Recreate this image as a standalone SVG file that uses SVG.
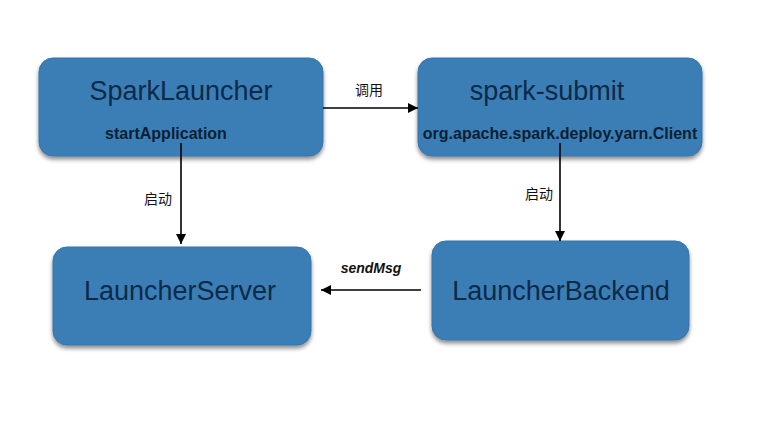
<svg xmlns="http://www.w3.org/2000/svg" width="778" height="448" viewBox="0 0 778 448">
<defs>
<filter id="sh" x="-10%" y="-10%" width="120%" height="130%">
<feGaussianBlur in="SourceAlpha" stdDeviation="2"/>
<feOffset dx="0" dy="3" result="b"/>
<feComponentTransfer><feFuncA type="linear" slope="0.45"/></feComponentTransfer>
<feMerge><feMergeNode/><feMergeNode in="SourceGraphic"/></feMerge>
</filter>
<marker id="ah" viewBox="0 0 10 10" refX="10" refY="5" markerWidth="10" markerHeight="10" markerUnits="userSpaceOnUse" orient="auto">
<path d="M0,0 L10,5 L0,10 Z" fill="#000"/>
</marker>
<style>
.box{fill:#3a7eb6;stroke:#3574aa;stroke-width:1;filter:url(#sh)}
.t{font-family:"Liberation Sans",Arial,sans-serif;font-size:27px;fill:#0e2a47;text-anchor:middle}
.s{font-family:"Liberation Sans",Arial,sans-serif;font-size:16px;font-weight:bold;fill:#0c1f33;text-anchor:middle}
.l{font-family:"Liberation Sans","Noto Sans CJK SC",sans-serif;font-size:14px;fill:#111;text-anchor:middle}
.c{stroke:#000;stroke-width:1.6;fill:none;marker-end:url(#ah)}
</style>
</defs>
<rect width="778" height="448" fill="#fff"/>
<g id="sparklauncher">
<rect class="box" x="39" y="58" width="284" height="98" rx="14"/>
<text class="t" x="181" y="100">SparkLauncher</text>
<text class="s" x="166" y="139">startApplication</text>
</g>
<g id="sparksubmit">
<rect class="box" x="418" y="58" width="284" height="98" rx="14"/>
<text class="t" x="547" y="100">spark-submit</text>
<text class="s" x="560" y="139">org.apache.spark.deploy.yarn.Client</text>
</g>
<g id="launcherserver">
<rect class="box" x="53" y="247" width="258" height="98" rx="14"/>
<text class="t" x="180" y="300">LauncherServer</text>
</g>
<g id="launcherbackend">
<rect class="box" x="432" y="241" width="257" height="99" rx="14"/>
<text class="t" x="561" y="300">LauncherBackend</text>
</g>
<g id="connectors">
<line class="c" x1="323" y1="108" x2="418" y2="108"/>
<line class="c" x1="181" y1="143" x2="181" y2="244"/>
<line class="c" x1="560" y1="143" x2="560" y2="241"/>
<line class="c" x1="421" y1="290" x2="321" y2="290"/>
<text class="l" x="369" y="95">调用</text>
<text class="l" x="158" y="204">启动</text>
<text class="l" x="539" y="199">启动</text>
<text class="l" x="371" y="273" font-weight="bold" font-style="italic">sendMsg</text>
</g>
</svg>
